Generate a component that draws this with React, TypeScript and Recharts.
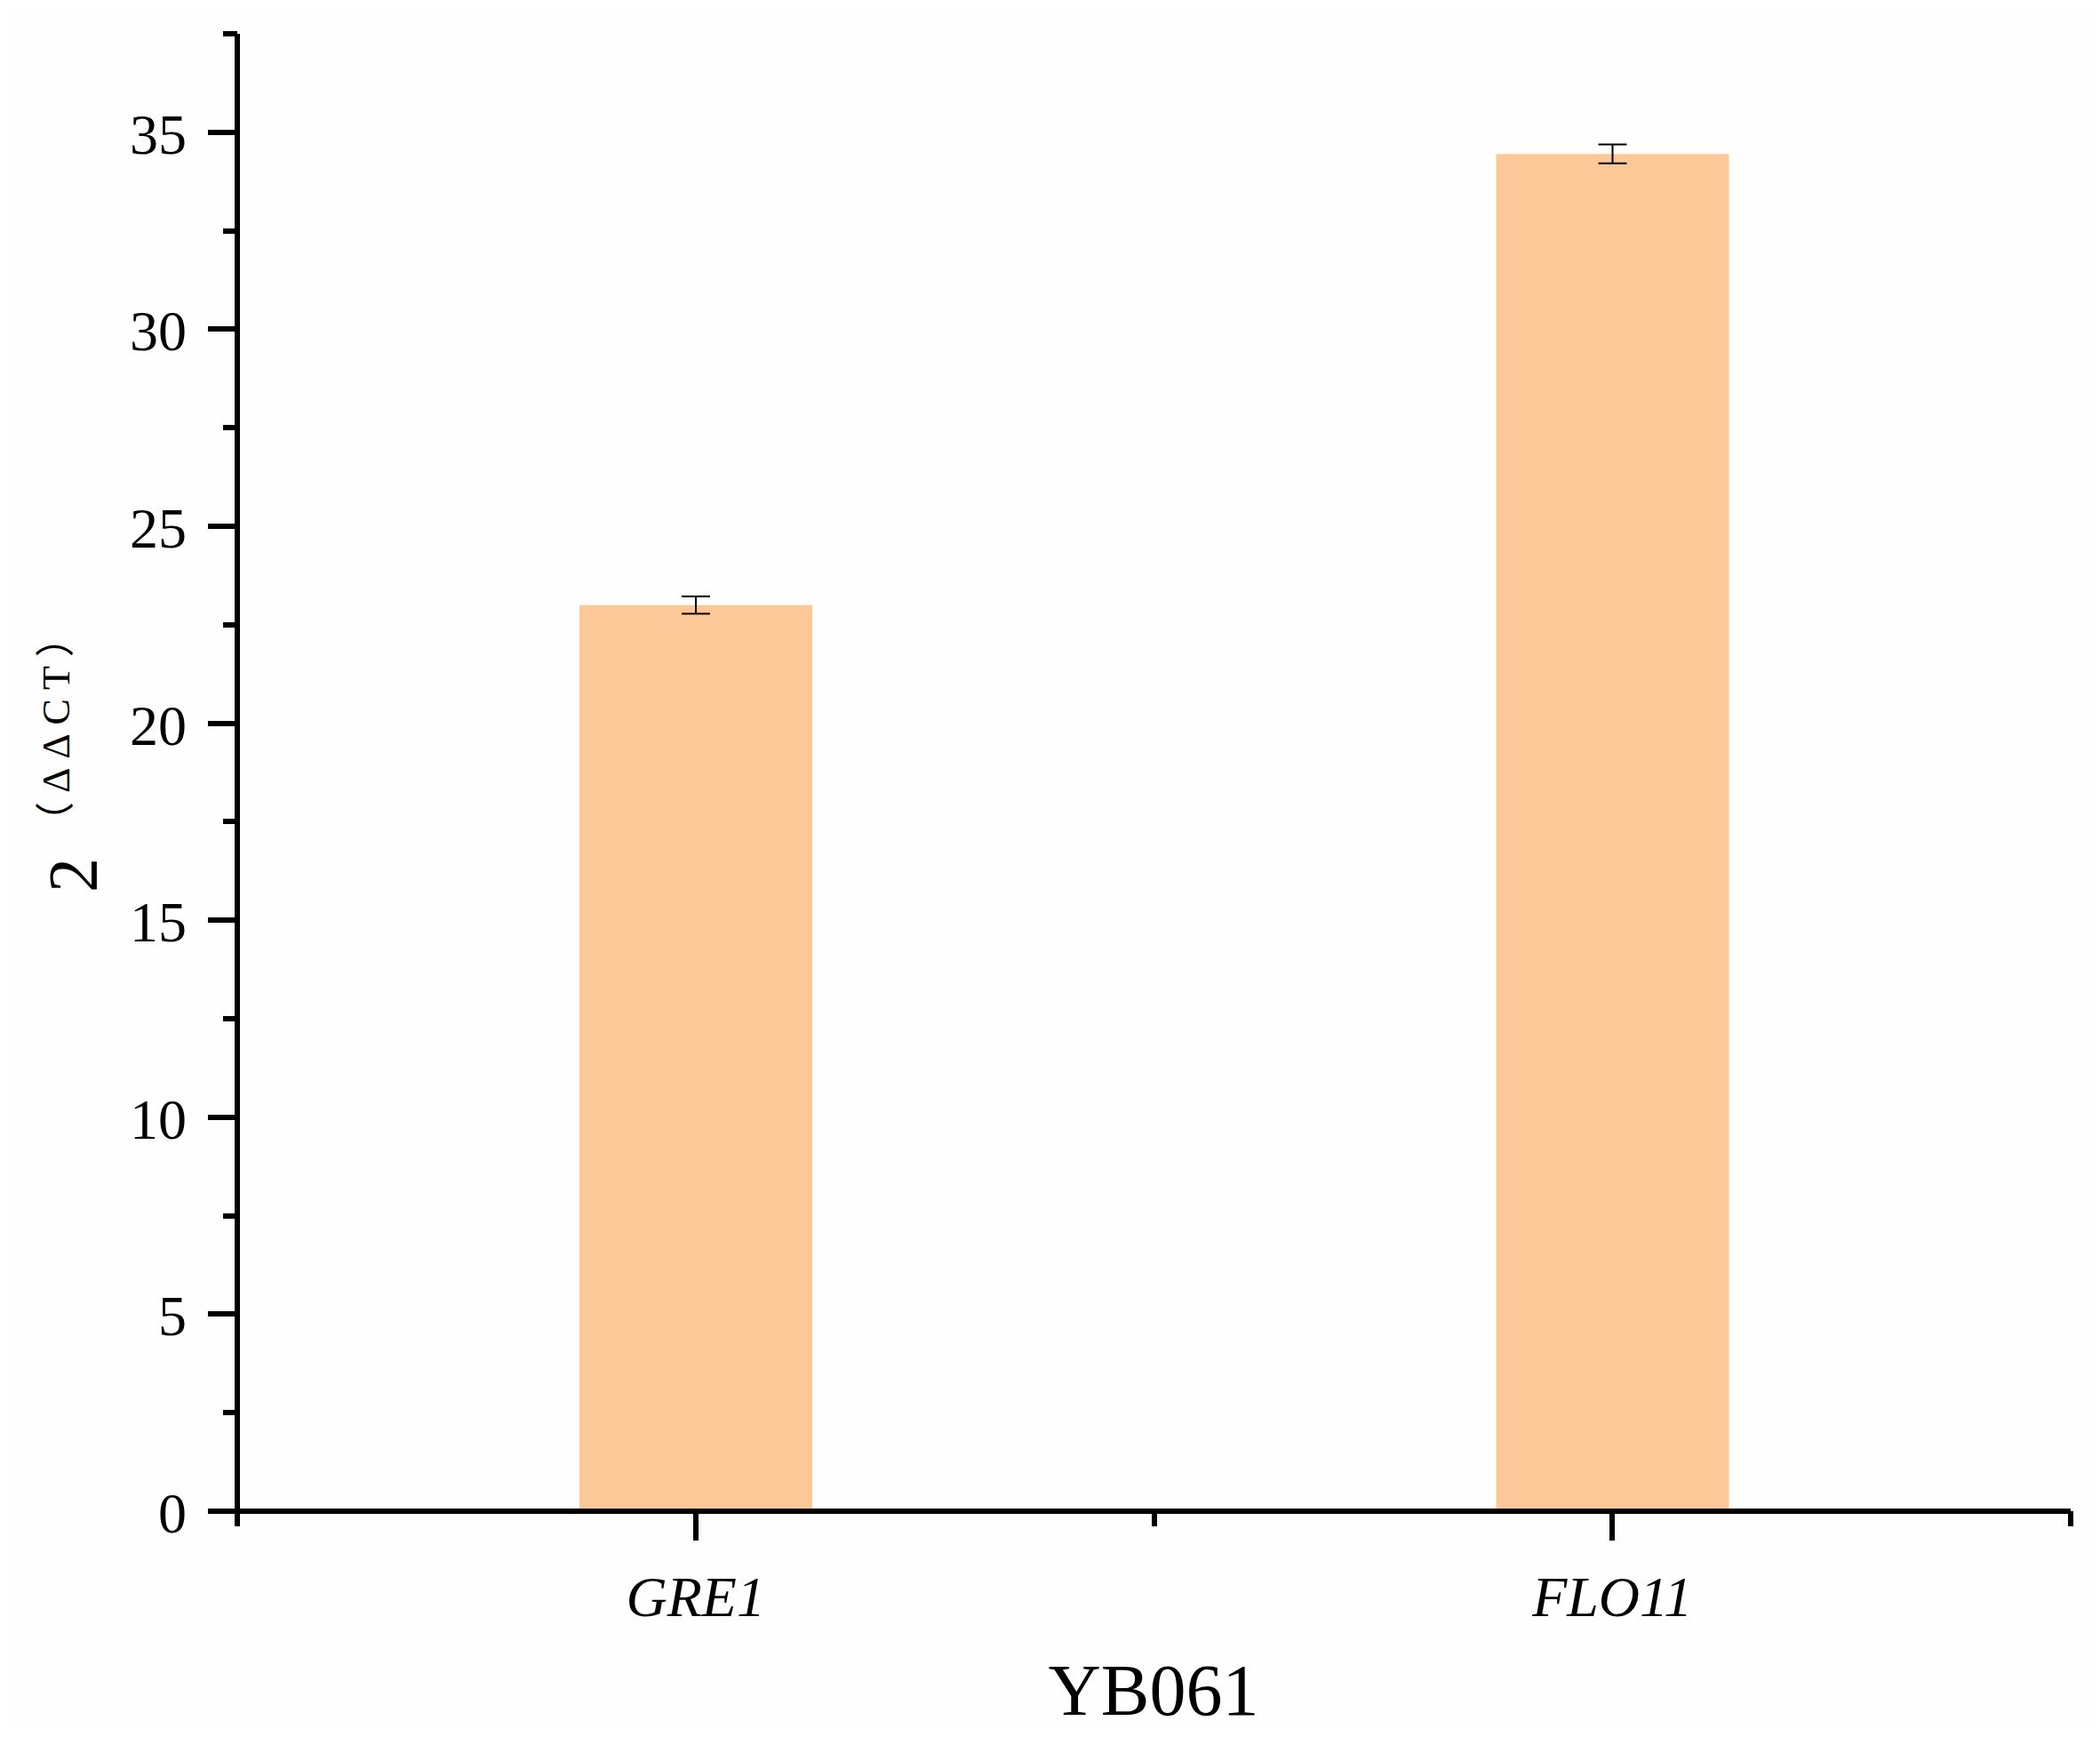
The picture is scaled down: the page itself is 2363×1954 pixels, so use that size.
import { BarChart, Bar, XAxis, YAxis, ErrorBar } from "recharts";

// data
const genes = ["GRE1", "FLO11"];
const foldChange = [23.0, 34.45];
const foldError = [0.22, 0.24];
const yTicks = [0, 2.5, 5, 7.5, 10, 12.5, 15, 17.5, 20, 22.5, 25, 27.5, 30, 32.5, 35, 37.5];
const yMajor = [0, 5, 10, 15, 20, 25, 30, 35];
const xTitle = "YB061";
const yTitleBase = "2";
const yTitleExp = "（ΔΔCT）";

const data = genes.map((g, i) => ({ name: g, value: foldChange[i], err: foldError[i] }));

const W = 2347;
const H = 1938;
const AXIS_X = 259;
const AXIS_Y = 1692;
const LW = 6;
const FONT = "'Liberation Serif', 'Times New Roman', serif";

function YTick(props: any) {
  const { y, payload } = props;
  const major = yMajor.includes(payload.value);
  return (
    <g>
      <line x1={AXIS_X} x2={AXIS_X - (major ? 33 : 16)} y1={y} y2={y} stroke="#000" strokeWidth={LW} shapeRendering="crispEdges" />
      {major && (
        <text x={AXIS_X - 57} y={y} dy={24} textAnchor="end" fontSize={64} fontFamily={FONT} fill="#000">
          {payload.value}
        </text>
      )}
    </g>
  );
}

function XTick(props: any) {
  const { x, payload, index } = props;
  const half = 515.75;
  const minors = index === 0 ? [x - half, x + half] : [x + half];
  return (
    <g>
      <line x1={x} x2={x} y1={AXIS_Y} y2={AXIS_Y + 33} stroke="#000" strokeWidth={LW} shapeRendering="crispEdges" />
      {minors.map((mx, i) => (
        <line key={i} x1={mx} x2={mx} y1={AXIS_Y} y2={AXIS_Y + 17} stroke="#000" strokeWidth={LW} shapeRendering="crispEdges" />
      ))}
      <text x={x} y={AXIS_Y + 118} textAnchor="middle" fontSize={64} fontStyle="italic" fontFamily={FONT} fill="#000">
        {payload.value}
      </text>
    </g>
  );
}

export default function App() {
  return (
    <div style={{ width: W, height: H, background: "#fefefe" }}>
      <BarChart width={W} height={H} data={data} margin={{ top: 30, right: 25, left: 0, bottom: 0 }}>
        <XAxis
          dataKey="name"
          height={246}
          axisLine={{ stroke: "#000", strokeWidth: LW, shapeRendering: "crispEdges" }}
          tickLine={false}
          tick={<XTick />}
          interval={0}
          label={{
            content: () => (
              <text x={1290} y={1921} textAnchor="middle" fontSize={82} fontFamily={FONT} fill="#000">
                {xTitle}
              </text>
            ),
          }}
        />
        <YAxis
          width={259}
          domain={[0, 37.5]}
          ticks={yTicks}
          interval={0}
          axisLine={{ stroke: "#000", strokeWidth: LW, shapeRendering: "crispEdges" }}
          tickLine={false}
          tick={<YTick />}
          label={{
            content: () => (
              <g fill="#000">
                <text x={100} y={996} transform="rotate(-90 100 996)" fontSize={78} fontFamily={FONT}>
                  {yTitleBase}
                </text>
                <text
                  x={70}
                  y={938}
                  transform="rotate(-90 70 938)"
                  fontSize={44}
                  letterSpacing={10}
                  fontFamily="'Liberation Serif', 'Noto Sans CJK SC', serif"
                >
                  {yTitleExp}
                </text>
              </g>
            ),
          }}
        />
        <Bar dataKey="value" fill="#FDC897" barSize={262} isAnimationActive={false}>
          <ErrorBar dataKey="err" width={16} stroke="#000" strokeWidth={2} />
        </Bar>
      </BarChart>
    </div>
  );
}
